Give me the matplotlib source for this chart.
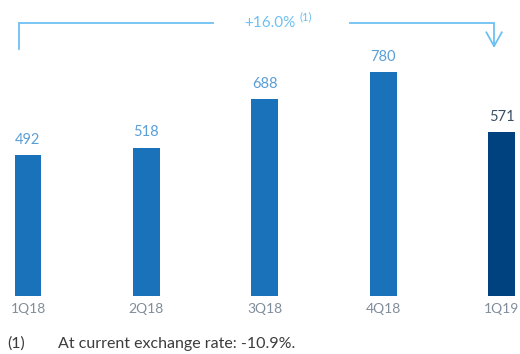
import numpy as np
import matplotlib
matplotlib.use("Agg")
import matplotlib.pyplot as plt

# datos del gráfico
categories = ["1Q18", "2Q18", "3Q18", "4Q18", "1Q19"]
values = [492, 518, 688, 780, 571]
change_label = "+16.0%"
change_note = "(1)"
footnote = "At current exchange rate: -10.9%."

plt.rcParams['font.family'] = ['Lato', 'DejaVu Sans']

bar_color = "#1a72ba"
last_color = "#00427f"
label_color = "#5a9fd8"
last_label_color = "#3d4f63"
tick_color = "#7f8c99"
bracket_color = "#6ec0f2"

fig = plt.figure(figsize=(5.2, 3.54), dpi=100)
ax = fig.add_axes([0, 58 / 354, 1, 296 / 354])

x = np.arange(len(categories))
colors = [bar_color] * (len(values) - 1) + [last_color]
ax.bar(x, values, width=0.228, color=colors)

for i, v in enumerate(values):
    c = last_label_color if i == len(values) - 1 else label_color
    ax.annotate(str(v), (x[i], v), xytext=(0, 6), textcoords="offset points",
                ha="center", va="bottom", fontsize=10.5, color=c)

ax.set_xlim(-0.2365, 4.156)
ax.set_ylim(0, 1033)
ax.set_xticks(x)
ax.set_xticklabels(categories, fontsize=10, color=tick_color)
ax.tick_params(axis="x", length=0, pad=5)
ax.set_yticks([])
for s in ax.spines.values():
    s.set_visible(False)

# corchete superior con flecha
y_line = 953
xl = x[0] - 0.076
xr = x[-1] - 0.063
xm = 2.04
ax.plot([xl, xl, xm - 0.48], [862, y_line, y_line], color=bracket_color, lw=1.3,
        clip_on=False, solid_joinstyle="miter")
ax.plot([xm + 0.68, xr, xr], [y_line, y_line, 872], color=bracket_color, lw=1.3,
        clip_on=False, solid_joinstyle="miter")
ax.plot([xr - 0.065, xr, xr + 0.065], [920, 872, 920], color=bracket_color, lw=1.3,
        clip_on=False)
ax.text(xm, y_line, change_label, ha="center", va="center", fontsize=11,
        color=bracket_color)
ax.text(xm + 0.25, y_line + 20, change_note, ha="left", va="center", fontsize=8,
        color=bracket_color)

fig.text(7 / 520, 1 - 344 / 354, "(1)", ha="left", va="center", fontsize=11.5,
         color="#3c3c3c")
fig.text(58 / 520, 1 - 344 / 354, footnote, ha="left", va="center", fontsize=11.5,
         color="#3c3c3c")

fig.savefig("out.png", dpi=100)
